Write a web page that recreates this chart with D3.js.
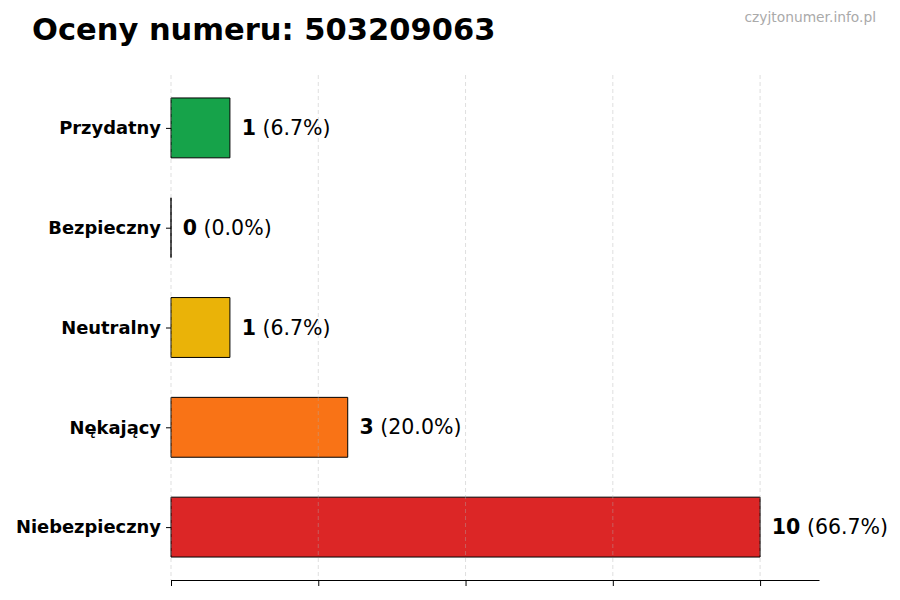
<!DOCTYPE html>
<html>
<head>
<meta charset="utf-8">
<script src="https://cdn.jsdelivr.net/npm/d3@7"></script>
<style>
  body { margin: 0; background: #fff; }
  svg { font-family: "DejaVu Sans", sans-serif; }
</style>
</head>
<body>
<svg id="chart" width="900" height="600"></svg>
<script>
var categories = ['Przydatny', 'Bezpieczny', 'Neutralny', 'Nękający', 'Niebezpieczny'],
    counts = [1, 0, 1, 3, 10],
    xTicks = [0, 2.5, 5, 7.5, 10],
    barColors = ['#16a34a', '#2563eb', '#eab308', '#f97316', '#dc2626'];

var total = d3.sum(counts),
    margin = {left: 171, right: 81, top: 75, bottom: 20},
    width = 900,
    height = 600,
    svg = d3.select('#chart');

var x = d3.scaleLinear()
    .domain([0, 11])
    .range([margin.left, width - margin.right]);

// bars at 0..4 with height 0.6, plus matplotlib 5% margins
var y = d3.scaleLinear()
    .domain([-0.53, 4.53])
    .range([margin.top, height - margin.bottom]);

// title + watermark
svg.append('text')
    .attr('x', 32)
    .attr('y', 40)
    .attr('font-size', 30.5)
    .attr('font-weight', 'bold')
    .text('Oceny numeru: 503209063');

svg.append('text')
    .attr('x', 876)
    .attr('y', 22)
    .attr('text-anchor', 'end')
    .attr('font-size', 13.8)
    .attr('fill', '#aaaaaa')
    .text('czyjtonumer.info.pl');

var bh = y(0.3) - y(-0.3);

// paths instead of rects so that a zero bar still shows its edge
svg.append('g').selectAll('path')
    .data(counts)
    .enter().append('path')
    .attr('d', function(d, i) {
        var y0 = y(i) - bh / 2;
        return 'M' + x(0) + ',' + y0 + 'H' + x(d) + 'V' + (y0 + bh) + 'H' + x(0) + 'Z';
    })
    .attr('fill', function(d, i) { return barColors[i]; })
    .attr('stroke', '#000')
    .attr('stroke-width', 1);

// grid on top of bars, like matplotlib default
svg.append('g').selectAll('line')
    .data(xTicks)
    .enter().append('line')
    .attr('x1', function(d) { return x(d); })
    .attr('x2', function(d) { return x(d); })
    .attr('y1', margin.top)
    .attr('y2', height - margin.bottom)
    .attr('stroke', '#b0b0b0')
    .attr('stroke-opacity', 0.5)
    .attr('stroke-dasharray', '4,3')
    .attr('stroke-width', 0.8);

// x axis: spine + ticks, no labels
var xAxis = svg.append('g')
    .attr('transform', 'translate(0,' + (height - margin.bottom) + ')')
    .call(d3.axisBottom(x).tickValues(xTicks).tickFormat('').tickSizeInner(6).tickSizeOuter(0));
xAxis.select('.domain').attr('stroke', '#000').attr('stroke-width', 1);
xAxis.selectAll('.tick line').attr('stroke', '#000');

// y axis: ticks and bold labels, no spine
var yAxis = svg.append('g')
    .attr('transform', 'translate(' + x(0) + ',0)')
    .call(d3.axisLeft(y).tickValues(d3.range(categories.length))
        .tickFormat(function(i) { return categories[i]; })
        .tickSizeInner(5).tickSizeOuter(0).tickPadding(5));
yAxis.select('.domain').remove();
yAxis.selectAll('.tick line').attr('stroke', '#000');
yAxis.selectAll('.tick text')
    .attr('font-family', '"DejaVu Sans", sans-serif')
    .attr('font-size', 17.9)
    .attr('font-weight', 'bold')
    .attr('fill', '#000');

// value labels
var labels = svg.append('g').selectAll('text')
    .data(counts)
    .enter().append('text')
    .attr('x', function(d) { return x(d + 0.2); })
    .attr('y', function(d, i) { return y(i); })
    .attr('dy', '0.35em')
    .attr('font-size', 20.5);

labels.append('tspan')
    .attr('font-weight', 'bold')
    .text(function(d) { return d; });
labels.append('tspan')
    .text(function(d) { return ' (' + (d / total * 100).toFixed(1) + '%)'; });
</script>
</body>
</html>
